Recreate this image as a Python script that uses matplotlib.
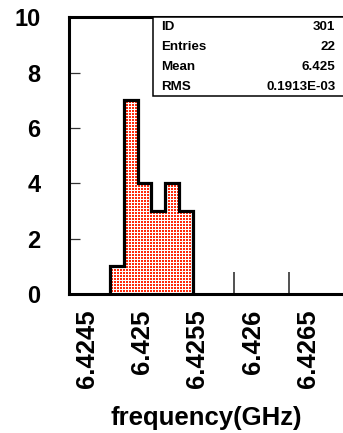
import matplotlib
matplotlib.use("Agg")
import matplotlib.pyplot as plt
import matplotlib.transforms as mtransforms
from matplotlib.patches import Rectangle
import numpy as np

# Histogram contents
bin_edges = [6.424875, 6.425, 6.425125, 6.42525, 6.425375, 6.4255, 6.425625]
counts = [1, 7, 4, 3, 4, 3]

x_ticks = [6.4245, 6.425, 6.4255, 6.426, 6.4265]
x_tick_labels = ["6.4245", "6.425", "6.4255", "6.426", "6.4265"]
y_ticks = [0, 2, 4, 6, 8, 10]

stats_names = ["ID", "Entries", "Mean", "RMS"]
stats_values = ["301", "22", "6.425", "0.1913E-03"]

plt.rcParams['font.family'] = ['Liberation Sans', 'DejaVu Sans']
plt.rcParams['font.weight'] = 'bold'

W, H = 343, 433
fig = plt.figure(figsize=(W / 100, H / 100), dpi=100)

def fx(px):
    return px / W

def fy(py):
    return (H - py) / H

left, right, top, bottom = 68.5, 344.5, 17.3, 294.0
ax = fig.add_axes([fx(left), fy(bottom), fx(right) - fx(left), fy(top) - fy(bottom)])

xlim = (6.4245, 6.427)
ylim = (0, 10)
ax.set_xlim(*xlim)
ax.set_ylim(*ylim)

# area under the histogram, used as clip region for the dotted fill
fill_patch = ax.stairs(counts, bin_edges, baseline=0, fill=True,
                       facecolor='white', linewidth=0, zorder=1.5)

# dotted red fill pattern (2x2 px dots on a 3 px grid)
ph, pw = int(round(bottom - top)), int(round(right - left))
yy, xx = np.mgrid[0:ph, 0:pw]
dots = ((yy % 3) < 2) & ((xx % 3) < 2)
tex = np.ones((ph, pw, 3))
tex[dots] = np.array([1.0, 0.17, 0.05])
im = ax.imshow(tex, extent=(xlim[0], xlim[1], ylim[0], ylim[1]), aspect='auto',
               interpolation='nearest', origin='upper', zorder=1.6)
im.set_clip_path(fill_patch)

# black contour
ax.stairs(counts, bin_edges, baseline=0, fill=False, color='black',
          linewidth=2.3, zorder=3)

ax.set_xlim(*xlim)
ax.set_ylim(*ylim)

ax.set_xticks(x_ticks)
ax.set_xticklabels(x_tick_labels, rotation=90, fontsize=18.5, fontweight='bold',
                   va='top', ha='center')
ax.set_yticks(y_ticks)
ax.set_yticklabels([str(v) for v in y_ticks], fontsize=17, fontweight='bold')

ax.tick_params(axis='x', direction='in', length=16, width=1.2, color='#333333',
               pad=11, top=False)
ax.tick_params(axis='y', direction='in', length=8, width=0.9, color='#333333',
               pad=20, right=False)

# rotated labels sit to the right of their ticks
shift = mtransforms.ScaledTranslation(18.5 / 100, 0, fig.dpi_scale_trans)
for lbl in ax.get_xticklabels():
    lbl.set_transform(lbl.get_transform() + shift)

for s in ax.spines.values():
    s.set_linewidth(2.2)
    s.set_color('black')
    s.set_zorder(4)

ax.set_xlabel("frequency(GHz)", fontsize=18.5, fontweight='bold', labelpad=13)

# statistics box
box_l, box_t, box_b = 152.5, 17.3, 96.0
fig.patches.append(Rectangle((fx(box_l), fy(box_b)), fx(350) - fx(box_l), fy(box_t) - fy(box_b),
                             transform=fig.transFigure, facecolor='white',
                             edgecolor='black', linewidth=1.1, zorder=5))
row_y = [27.5, 47.5, 67.0, 87.0]
for name, val, ry in zip(stats_names, stats_values, row_y):
    fig.text(fx(161.5), fy(ry), name, fontsize=9.6, fontweight='bold',
             ha='left', va='center', zorder=6)
    fig.text(fx(335.5), fy(ry), val, fontsize=9.6, fontweight='bold',
             ha='right', va='center', zorder=6)

fig.savefig("out.png", dpi=100)
